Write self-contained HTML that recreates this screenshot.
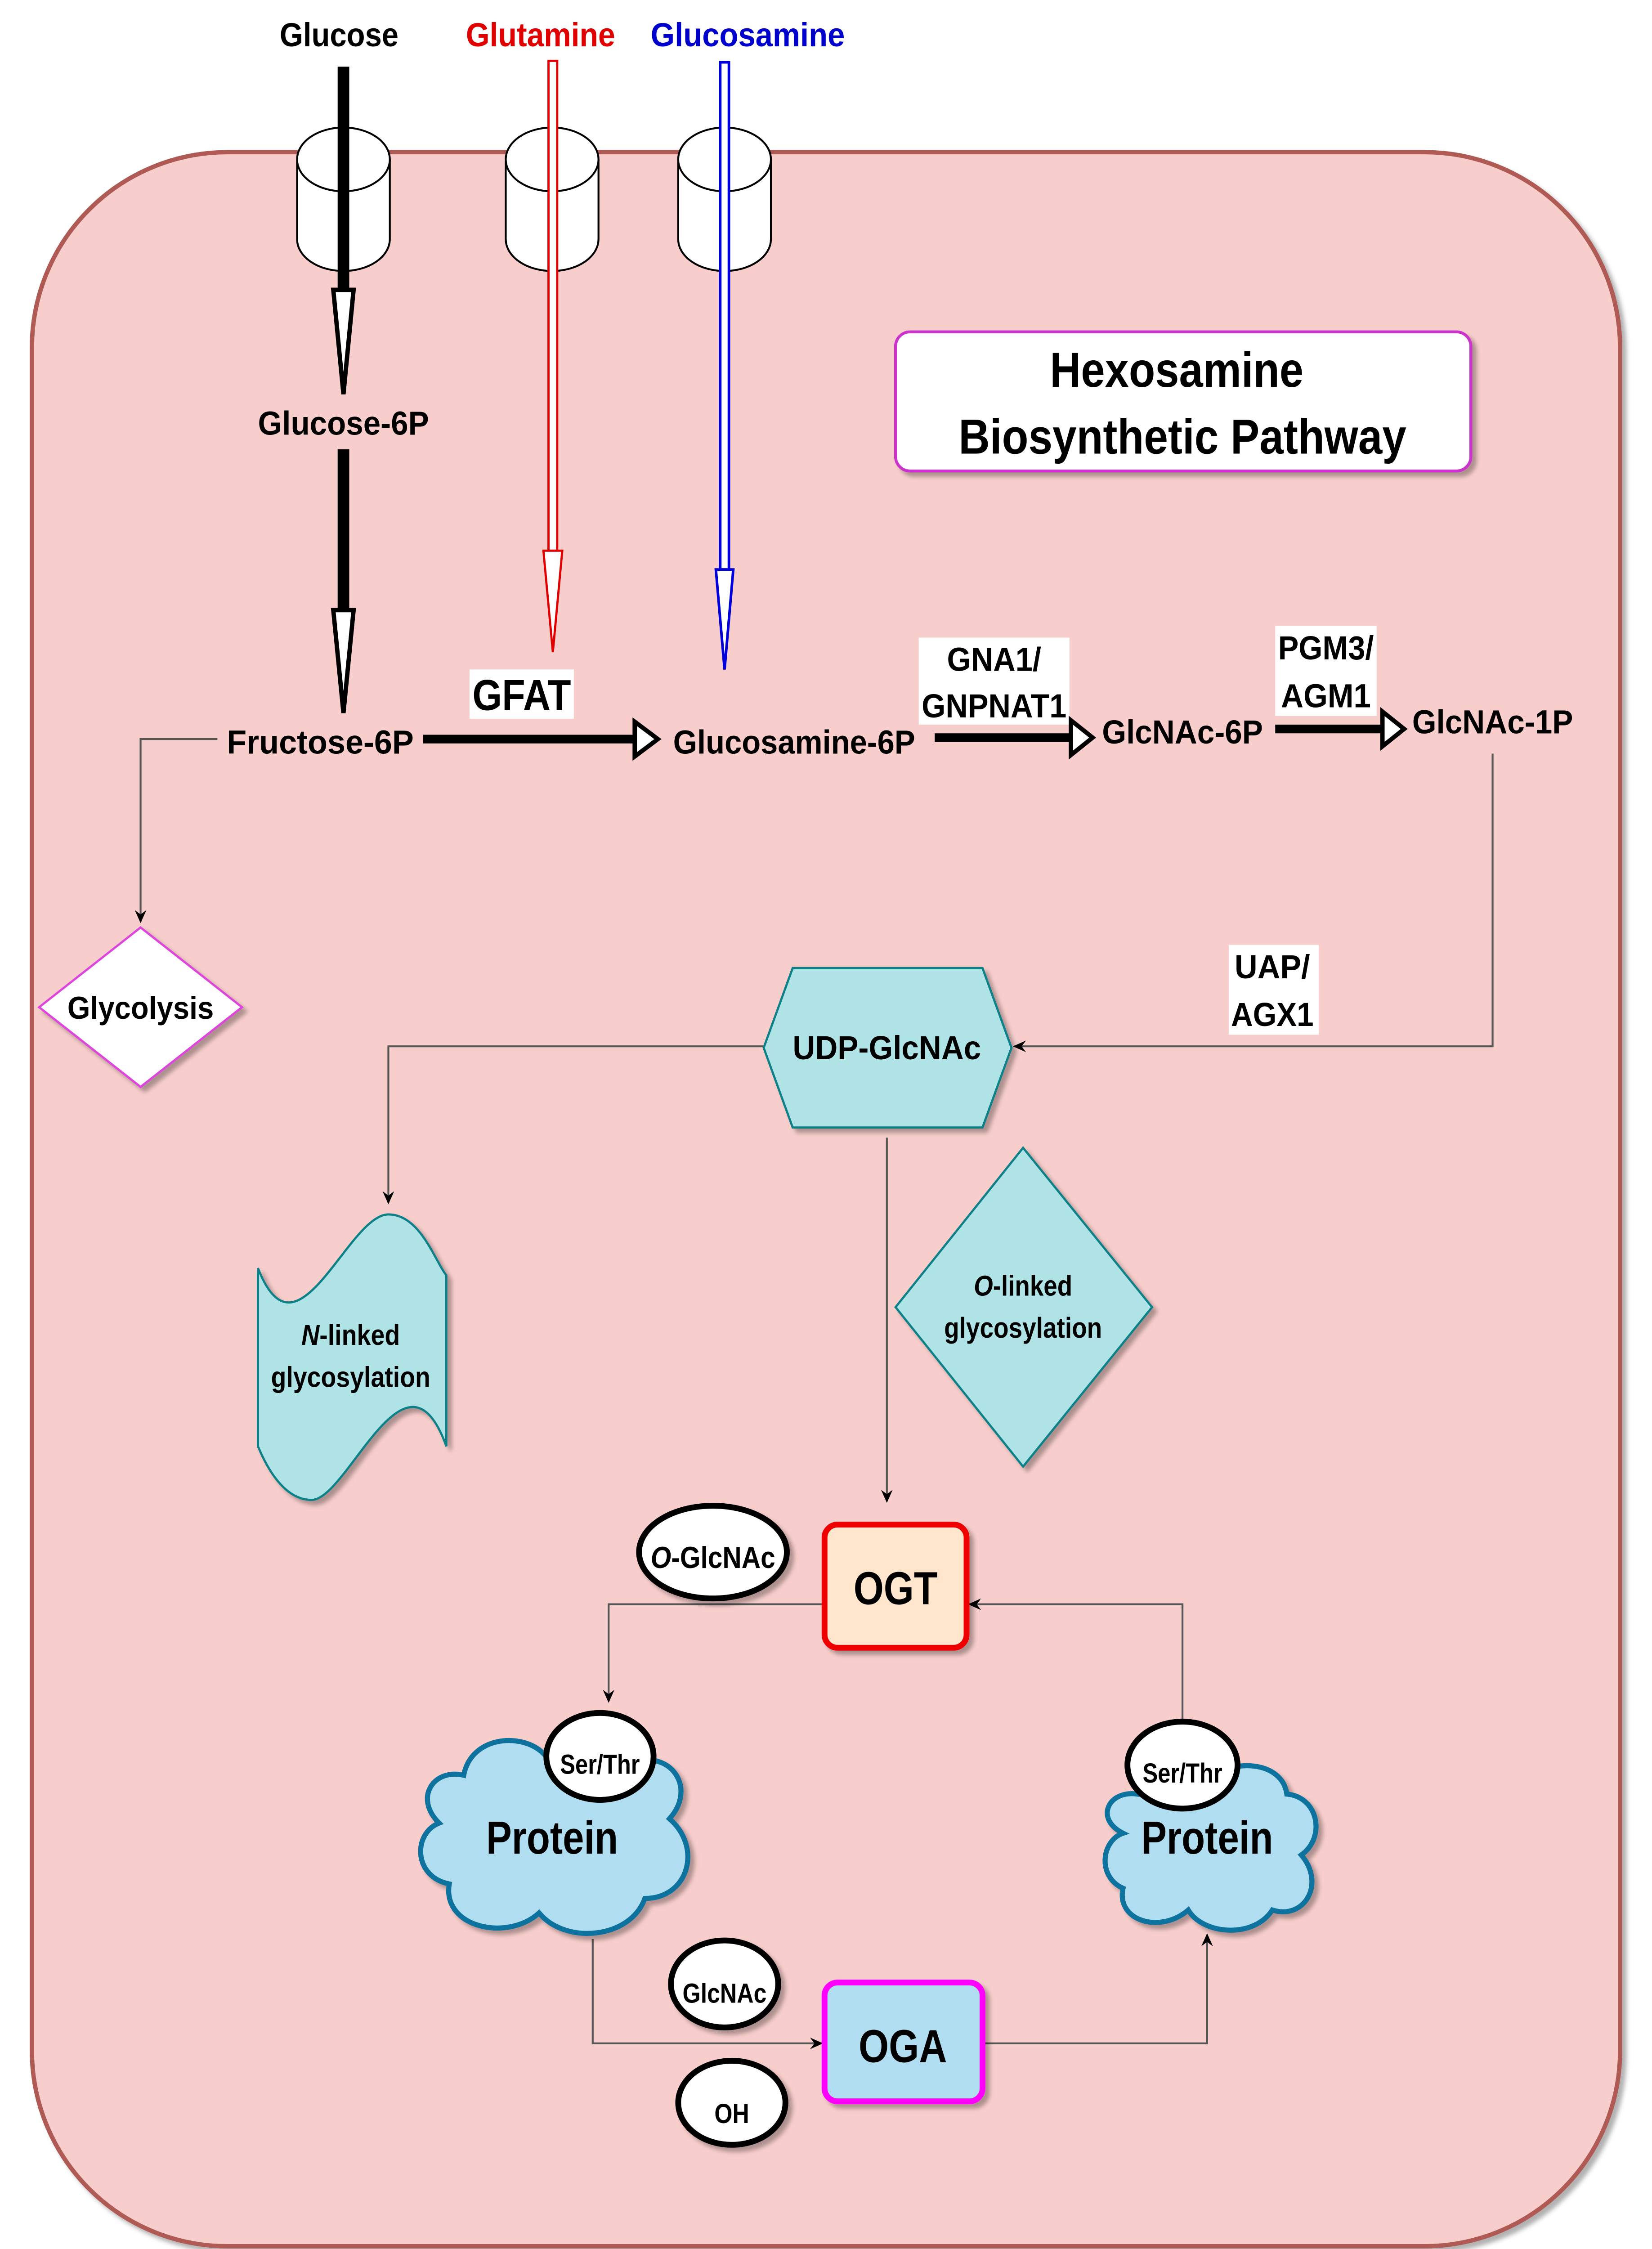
<!DOCTYPE html>
<html><head><meta charset="utf-8"><style>html,body{margin:0;padding:0;background:#fff;width:3673px;height:5039px;overflow:hidden}svg{display:block}text{font-family:"Liberation Sans",sans-serif;font-weight:bold}</style></head>
<body>
<svg width="3673" height="5039" viewBox="0 0 1140 1564" xmlns="http://www.w3.org/2000/svg">
<defs>
<filter id="sh" x="-20%" y="-20%" width="150%" height="150%"><feDropShadow dx="3" dy="3" stdDeviation="1.5" flood-color="#000" flood-opacity="0.3"/></filter>
<marker id="ar" markerWidth="10" markerHeight="10" refX="8" refY="5" orient="auto" markerUnits="userSpaceOnUse"><path d="M0,1 L9,5 L0,9 L3,5 Z" fill="#000"/></marker>
</defs>
<rect x="0" y="0" width="1140" height="1564" fill="#fff"/>
<rect x="22" y="105" width="1096" height="1445" rx="135" fill="#f8cecc" stroke="#b05a55" stroke-width="3" filter="url(#sh)"/>

<g fill="#fff" stroke="#000" stroke-width="1.3">
<path d="M205,110 v55 a32,22 0 0 0 64,0 v-55"/><ellipse cx="237" cy="110" rx="32" ry="22"/>
<path d="M349,110 v55 a32,22 0 0 0 64,0 v-55"/><ellipse cx="381" cy="110" rx="32" ry="22"/>
<path d="M468,110 v55 a32,22 0 0 0 64,0 v-55"/><ellipse cx="500" cy="110" rx="32" ry="22"/>
</g>

<text x="234" y="32" font-size="23" text-anchor="middle" textLength="82" lengthAdjust="spacingAndGlyphs" fill="#000">Glucose</text>
<text x="373" y="32" font-size="23" text-anchor="middle" textLength="103" lengthAdjust="spacingAndGlyphs" fill="#e00000">Glutamine</text>
<text x="516" y="32" font-size="23" text-anchor="middle" textLength="134" lengthAdjust="spacingAndGlyphs" fill="#0000cc">Glucosamine</text>

<rect x="233" y="46" width="8" height="155" fill="#000"/>
<path d="M230,200 L244,200 L237,272 Z" fill="#fff" stroke="#000" stroke-width="3"/>
<text x="237" y="300" font-size="23" text-anchor="middle" textLength="118" lengthAdjust="spacingAndGlyphs">Glucose-6P</text>
<rect x="233" y="310" width="8" height="112" fill="#000"/>
<path d="M230,421 L244,421 L237,492 Z" fill="#fff" stroke="#000" stroke-width="3"/>

<rect x="378.5" y="42" width="6" height="338" fill="#fff" stroke="#e00000" stroke-width="1.5"/>
<path d="M375,380 L388,380 L381.5,450 Z" fill="#fff" stroke="#e00000" stroke-width="1.5"/>
<rect x="497" y="43" width="6" height="350" fill="#fff" stroke="#0000dd" stroke-width="1.8"/>
<path d="M494,393 L506,393 L500,462 Z" fill="#fff" stroke="#0000dd" stroke-width="1.8"/>

<rect x="618" y="229" width="397" height="96" rx="10" fill="#fff" stroke="#cc33cc" stroke-width="2" filter="url(#sh)"/>
<text x="812" y="267" font-size="34" text-anchor="middle" textLength="175" lengthAdjust="spacingAndGlyphs">Hexosamine</text>
<text x="816" y="313" font-size="34" text-anchor="middle" textLength="309" lengthAdjust="spacingAndGlyphs">Biosynthetic Pathway</text>

<text x="221" y="520" font-size="23" text-anchor="middle" textLength="129" lengthAdjust="spacingAndGlyphs">Fructose-6P</text>
<rect x="324" y="462" width="72" height="34" fill="#fff"/>
<text x="360" y="490" font-size="30" text-anchor="middle" textLength="68" lengthAdjust="spacingAndGlyphs">GFAT</text>
<rect x="292" y="507" width="148" height="6" fill="#000"/>
<path d="M438,498 L438,522 L454,510 Z" fill="#fff" stroke="#000" stroke-width="3"/>
<text x="548" y="520" font-size="23" text-anchor="middle" textLength="167" lengthAdjust="spacingAndGlyphs">Glucosamine-6P</text>

<rect x="634" y="440" width="104" height="60" fill="#fff"/>
<text x="686" y="463" font-size="23" text-anchor="middle" textLength="65" lengthAdjust="spacingAndGlyphs">GNA1/</text>
<text x="686" y="495" font-size="23" text-anchor="middle" textLength="100" lengthAdjust="spacingAndGlyphs">GNPNAT1</text>
<rect x="645" y="506" width="96" height="6" fill="#000"/>
<path d="M739,497 L739,521 L754,509 Z" fill="#fff" stroke="#000" stroke-width="3"/>
<text x="816" y="513" font-size="23" text-anchor="middle" textLength="111" lengthAdjust="spacingAndGlyphs">GlcNAc-6P</text>

<rect x="880" y="432" width="70" height="62" fill="#fff"/>
<text x="915" y="455" font-size="23" text-anchor="middle" textLength="66" lengthAdjust="spacingAndGlyphs">PGM3/</text>
<text x="915" y="488" font-size="23" text-anchor="middle" textLength="62" lengthAdjust="spacingAndGlyphs">AGM1</text>
<rect x="880" y="500" width="76" height="6" fill="#000"/>
<path d="M954,491 L954,515 L969,503 Z" fill="#fff" stroke="#000" stroke-width="3"/>
<text x="1030" y="506" font-size="23" text-anchor="middle" textLength="111" lengthAdjust="spacingAndGlyphs">GlcNAc-1P</text>

<g fill="none" stroke="#555" stroke-width="1.3">
<path d="M150,510 H97 V636" marker-end="url(#ar)"/>
<path d="M1030,520 V722 H700" marker-end="url(#ar)"/>
<path d="M527,722 H268 V830" marker-end="url(#ar)"/>
<path d="M612,785 V1036" marker-end="url(#ar)"/>
<path d="M569,1107 H420 V1174" marker-end="url(#ar)"/>
<path d="M816,1190 V1107 H669" marker-end="url(#ar)"/>
<path d="M409,1338 V1410 H567" marker-end="url(#ar)"/>
<path d="M678,1410 H833 V1335" marker-end="url(#ar)"/>
</g>

<rect x="848" y="652" width="62" height="62" fill="#fff"/>
<text x="878" y="675" font-size="23" text-anchor="middle" textLength="52" lengthAdjust="spacingAndGlyphs">UAP/</text>
<text x="878" y="708" font-size="23" text-anchor="middle" textLength="57" lengthAdjust="spacingAndGlyphs">AGX1</text>

<path d="M97,640 L167,695 L97,750 L27,695 Z" fill="#fff" stroke="#dd44dd" stroke-width="1.5" filter="url(#sh)"/>
<text x="97" y="703" font-size="22" text-anchor="middle" textLength="101" lengthAdjust="spacingAndGlyphs">Glycolysis</text>

<path d="M547,668 L678,668 L698,723 L678,778 L547,778 L527,723 Z" fill="#b0e3e6" stroke="#0e8088" stroke-width="1.5" filter="url(#sh)"/>
<text x="612" y="731" font-size="23" text-anchor="middle" textLength="130" lengthAdjust="spacingAndGlyphs">UDP-GlcNAc</text>

<path d="M178,875 C205,945 240,838 268,838 C290,838 300,870 308,880 L308,998 C280,920 240,1035 215,1035 C195,1035 183,1010 178,998 Z" fill="#b0e3e6" stroke="#0e8088" stroke-width="1.5" filter="url(#sh)"/>
<text x="242" y="928" font-size="20" text-anchor="middle" textLength="68" lengthAdjust="spacingAndGlyphs"><tspan font-style="italic">N</tspan>-linked</text>
<text x="242" y="957" font-size="20" text-anchor="middle" textLength="110" lengthAdjust="spacingAndGlyphs">glycosylation</text>

<path d="M706,792 L795,902 L706,1012 L618,902 Z" fill="#b0e3e6" stroke="#0e8088" stroke-width="1.5" filter="url(#sh)"/>
<text x="706" y="894" font-size="20" text-anchor="middle" textLength="68" lengthAdjust="spacingAndGlyphs"><tspan font-style="italic">O</tspan>-linked</text>
<text x="706" y="923" font-size="20" text-anchor="middle" textLength="109" lengthAdjust="spacingAndGlyphs">glycosylation</text>

<rect x="569" y="1052" width="98" height="85" rx="9" fill="#ffe6cc" stroke="#ee0000" stroke-width="4" filter="url(#sh)"/>
<text x="618" y="1107" font-size="32" text-anchor="middle" textLength="58" lengthAdjust="spacingAndGlyphs">OGT</text>
<ellipse cx="492" cy="1071" rx="51" ry="32" fill="#fff" stroke="#000" stroke-width="4" filter="url(#sh)"/>
<text x="492" y="1082" font-size="21" text-anchor="middle" textLength="86" lengthAdjust="spacingAndGlyphs"><tspan font-style="italic">O</tspan>-GlcNAc</text>

<path d="M320,1225 C325,1198 360,1195 375,1210 C395,1192 430,1195 440,1215 C465,1210 480,1235 462,1255 C485,1275 475,1310 445,1310 C435,1338 390,1342 372,1320 C350,1340 305,1330 310,1300 C285,1295 285,1265 303,1258 C285,1240 300,1220 320,1225 Z" fill="#b1ddf0" stroke="#10739e" stroke-width="3.5" filter="url(#sh)"/>
<ellipse cx="414" cy="1212" rx="37" ry="30" fill="#fff" stroke="#000" stroke-width="4"/>
<text x="414" y="1224" font-size="19" text-anchor="middle" textLength="55" lengthAdjust="spacingAndGlyphs">Ser/Thr</text>
<text x="381" y="1279" font-size="32" text-anchor="middle" textLength="91" lengthAdjust="spacingAndGlyphs">Protein</text>

<path d="M785,1238 C790,1215 820,1212 835,1228 C850,1213 885,1215 888,1238 C910,1240 915,1268 898,1280 C915,1300 900,1325 878,1318 C865,1338 830,1335 820,1318 C800,1335 770,1325 775,1303 C757,1295 760,1270 775,1265 C755,1255 765,1235 785,1238 Z" fill="#b1ddf0" stroke="#10739e" stroke-width="3.5" filter="url(#sh)"/>
<ellipse cx="816" cy="1218" rx="38" ry="30" fill="#fff" stroke="#000" stroke-width="4"/>
<text x="816" y="1230" font-size="19" text-anchor="middle" textLength="55" lengthAdjust="spacingAndGlyphs">Ser/Thr</text>
<text x="833" y="1279" font-size="32" text-anchor="middle" textLength="91" lengthAdjust="spacingAndGlyphs">Protein</text>

<rect x="569" y="1368" width="109" height="82" rx="9" fill="#b1ddf0" stroke="#ff00ff" stroke-width="4" filter="url(#sh)"/>
<text x="623" y="1423" font-size="32" text-anchor="middle" textLength="61" lengthAdjust="spacingAndGlyphs">OGA</text>
<ellipse cx="500" cy="1369" rx="37" ry="30" fill="#fff" stroke="#000" stroke-width="4" filter="url(#sh)"/>
<text x="500" y="1382" font-size="19" text-anchor="middle" textLength="58" lengthAdjust="spacingAndGlyphs">GlcNAc</text>
<ellipse cx="505" cy="1451" rx="37" ry="29" fill="#fff" stroke="#000" stroke-width="4" filter="url(#sh)"/>
<text x="505" y="1465" font-size="19" text-anchor="middle" textLength="24" lengthAdjust="spacingAndGlyphs">OH</text>
</svg>
</body></html>
